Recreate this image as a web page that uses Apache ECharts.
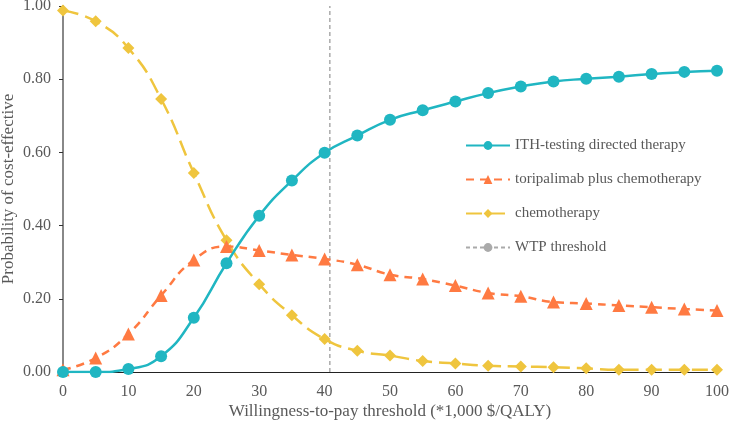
<!DOCTYPE html>
<html><head><meta charset="utf-8">
<script src="https://cdn.jsdelivr.net/npm/echarts@6/dist/echarts.min.js"></script>
<style>html,body{margin:0;padding:0;background:#fff}#c{width:729px;height:423px}</style>
</head><body><div id="c"></div>
<script>
const wtp = [0,5,10,15,20,25,30,35,40,45,50,55,60,65,70,75,80,85,90,95,100];
const ithTesting = [0.000,0.000,0.008,0.043,0.148,0.297,0.427,0.523,0.599,0.646,0.689,0.715,0.739,0.762,0.780,0.794,0.801,0.807,0.814,0.820,0.823];
const toripalimab = [0.006,0.038,0.104,0.209,0.306,0.343,0.332,0.320,0.309,0.293,0.266,0.254,0.236,0.216,0.207,0.191,0.187,0.182,0.177,0.172,0.168];
const chemo = [0.988,0.958,0.885,0.746,0.544,0.360,0.240,0.155,0.090,0.058,0.045,0.030,0.023,0.017,0.015,0.013,0.010,0.006,0.006,0.006,0.006];
const threshold = 40.8;
const yTicks = [0,0.2,0.4,0.6,0.8,1.0];
const names = ['ITH-testing directed therapy','toripalimab plus chemotherapy','chemotherapy','WTP threshold'];

const pair = arr => wtp.map((x,i)=>[x,arr[i]]);
const font = 'Liberation Serif';
const chart = echarts.init(document.getElementById('c'));
chart.setOption({
  animation:false,
  grid:{left:63,right:12,top:6,bottom:51,containLabel:false,outerBoundsMode:'none'},
  legend:{
    data:names, orient:'vertical', left:460, top:133, itemGap:19, itemWidth:44, itemHeight:11,
    textStyle:{fontFamily:font,fontSize:15,color:'#595959'}
  },
  xAxis:{
    type:'value', min:0, max:100, interval:10,
    name:'Willingness-to-pay threshold (*1,000 $/QALY)', nameLocation:'middle', nameGap:31,
    nameMoveOverlap:false,
    nameTextStyle:{fontFamily:font,fontSize:17,color:'#595959'},
    axisLine:{show:true,lineStyle:{color:'#222',width:1}},
    axisTick:{show:false},
    splitLine:{show:false},
    axisLabel:{fontFamily:font,fontSize:16,color:'#595959',margin:12}
  },
  yAxis:{
    type:'value', min:0, max:1, interval:0.2,
    name:'Probability of cost-effective', nameLocation:'middle', nameGap:46,
    nameMoveOverlap:false,
    nameTextStyle:{fontFamily:font,fontSize:17,color:'#595959'},
    axisLine:{show:true,lineStyle:{color:'#888',width:2}},
    axisTick:{show:true,length:4,lineStyle:{color:'#333'}},
    splitLine:{show:false},
    axisLabel:{fontFamily:font,fontSize:16,color:'#595959',margin:12,
      formatter:v=>yTicks.some(t=>Math.abs(t-v)<1e-9)?v.toFixed(2):''}
  },
  series:[
    {name:names[0],type:'line',smooth:0.5,data:pair(ithTesting),symbol:'circle',symbolSize:12,
     lineStyle:{color:'#20B6C2',width:2.5},itemStyle:{color:'#20B6C2'},z:4},
    {name:names[1],type:'line',smooth:0.5,data:pair(toripalimab),symbol:'triangle',symbolSize:13,
     lineStyle:{color:'#FF7A42',width:2.5,type:[8,6]},itemStyle:{color:'#FF7A42'},z:3},
    {name:names[2],type:'line',smooth:0.5,data:pair(chemo),symbol:'diamond',symbolSize:12,
     lineStyle:{color:'#EFC53E',width:2.5,type:[16,7]},itemStyle:{color:'#EFC53E'},z:2},
    {name:names[3],type:'line',data:[[threshold,0],[threshold,1]],symbol:'none',
     lineStyle:{color:'#aaaaaa',width:1.5,type:[4,3]},itemStyle:{color:'#aaaaaa'},z:1}
  ]
});
</script></body></html>
